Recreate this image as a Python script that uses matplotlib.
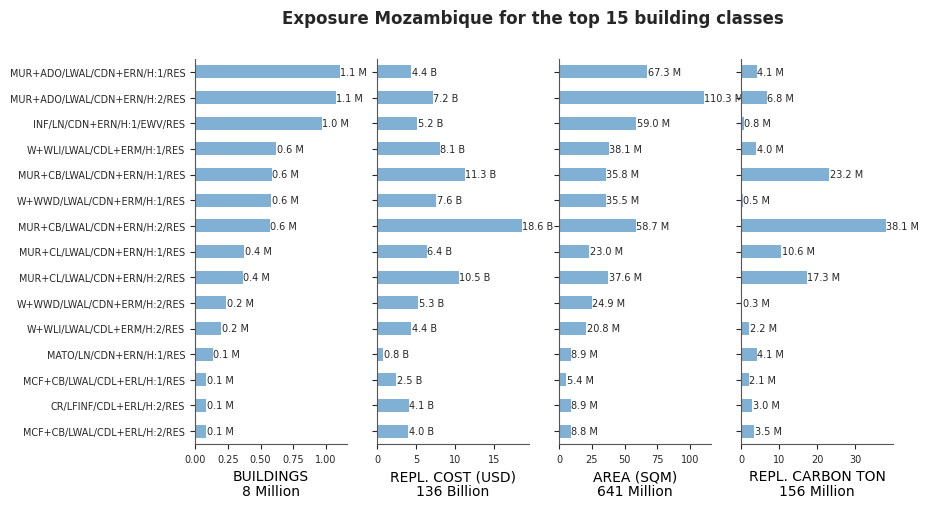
import matplotlib
matplotlib.use("Agg")
import numpy as np
from matplotlib import pyplot as plt

classes = [
    "MUR+ADO/LWAL/CDN+ERN/H:1/RES",
    "MUR+ADO/LWAL/CDN+ERN/H:2/RES",
    "INF/LN/CDN+ERN/H:1/EWV/RES",
    "W+WLI/LWAL/CDL+ERM/H:1/RES",
    "MUR+CB/LWAL/CDN+ERN/H:1/RES",
    "W+WWD/LWAL/CDN+ERM/H:1/RES",
    "MUR+CB/LWAL/CDN+ERN/H:2/RES",
    "MUR+CL/LWAL/CDN+ERN/H:1/RES",
    "MUR+CL/LWAL/CDN+ERN/H:2/RES",
    "W+WWD/LWAL/CDN+ERM/H:2/RES",
    "W+WLI/LWAL/CDL+ERM/H:2/RES",
    "MATO/LN/CDN+ERN/H:1/RES",
    "MCF+CB/LWAL/CDL+ERL/H:1/RES",
    "CR/LFINF/CDL+ERL/H:2/RES",
    "MCF+CB/LWAL/CDL+ERL/H:2/RES",
]

# millions of buildings
buildings = [1.105, 1.074, 0.967, 0.622, 0.584, 0.583, 0.569, 0.377, 0.365,
             0.24, 0.201, 0.138, 0.087, 0.087, 0.087]
# billions USD
cost = [4.4, 7.2, 5.2, 8.1, 11.3, 7.6, 18.6, 6.4, 10.5, 5.3, 4.4, 0.8, 2.5, 4.1, 4.0]
# millions sqm
area = [67.3, 110.3, 59.0, 38.1, 35.8, 35.5, 58.7, 23.0, 37.6, 24.9, 20.8,
        8.9, 5.4, 8.9, 8.8]
# millions ton
carbon = [4.1, 6.8, 0.8, 4.0, 23.2, 0.5, 38.06, 10.6, 17.3, 0.3, 2.2, 4.1,
          2.1, 3.0, 3.5]

panels = [
    (buildings, "M", "BUILDINGS\n8 Million"),
    (cost, "B", "REPL. COST (USD)\n136 Billion"),
    (area, "M", "AREA (SQM)\n641 Million"),
    (carbon, "M", "REPL. CARBON TON\n156 Million"),
]

bar_color = "#80b0d3"
text_color = "#262626"

fig = plt.figure(figsize=(9.3, 5.1), dpi=100)
left0 = 195 / 930
w = 152 / 930
gap = 182 / 930
bottom = 1 - 445 / 510
h = 385 / 510

ypos = np.arange(len(classes))
for i, (vals, unit, xlab) in enumerate(panels):
    ax = fig.add_axes([left0 + i * gap, bottom, w, h])
    bars = ax.barh(ypos, vals, height=0.5, color=bar_color)
    ax.set_ylim(len(classes) - 0.5, -0.5)
    ax.set_xlim(0, max(vals) * 1.05)
    ax.bar_label(bars, labels=[f"{v:.1f} {unit}" for v in vals],
                 padding=0.3, fontsize=7, color=text_color)
    ax.set_yticks(ypos)
    if i == 0:
        ax.set_yticklabels(classes, fontsize=6.9, color=text_color)
    else:
        ax.set_yticklabels([])
    ax.tick_params(axis="x", labelsize=7, colors=text_color)
    ax.tick_params(axis="y", colors=text_color)
    ax.set_xlabel(xlab, fontsize=10, labelpad=4, linespacing=1.1)
    for s in ["top", "right"]:
        ax.spines[s].set_visible(False)
    for s in ["left", "bottom"]:
        ax.spines[s].set_color("#555555")

fig.text(533 / 930, 1 - 18.5 / 510, "Exposure Mozambique for the top 15 building classes",
         ha="center", va="center", fontsize=12, fontweight="bold", color=text_color)

plt.savefig("out.png", dpi=100)
